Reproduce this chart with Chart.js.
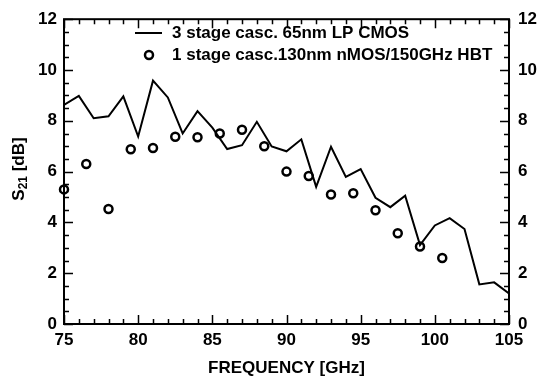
<!DOCTYPE html>
<html>
<head>
<meta charset="utf-8">
<script src="https://cdn.jsdelivr.net/npm/chart.js@4.4.0/dist/chart.umd.min.js"></script>
<style>
  html, body { margin: 0; padding: 0; background: #fff; }
  #wrap { width: 538px; height: 379px; }
</style>
</head>
<body>
<div id="wrap"><canvas id="grafico"></canvas></div>
<script>
// dados
var freqCMOS = [75, 76, 77, 78, 79, 80, 81, 82, 83, 84, 85, 86, 87, 88, 89, 90,
  91, 92, 93, 94, 95, 96, 97, 98, 99, 100, 101, 102, 103, 104, 105];
var s21CMOS = [8.63, 8.98, 8.1, 8.18, 8.96, 7.38, 9.58, 8.92, 7.5, 8.38, 7.73, 6.89, 7.04, 7.96, 6.99, 6.8,
  7.27, 5.4, 6.98, 5.79, 6.1, 4.97, 4.6, 5.05, 3.11, 3.88, 4.17, 3.74, 1.56, 1.64, 1.2];

var freqHBT = [75, 76.5, 78, 79.5, 81, 82.5, 84, 85.5, 87, 88.5, 90, 91.5, 93, 94.5, 96, 97.5, 99, 100.5];
var s21HBT = [5.3, 6.3, 4.53, 6.88, 6.93, 7.37, 7.35, 7.5, 7.65, 7.0, 6.0, 5.83, 5.1, 5.15, 4.48, 3.57, 3.05, 2.6];

var legendas = ['3 stage casc. 65nm LP CMOS', '1 stage casc.130nm nMOS/150GHz HBT'];
var xMin = 75, xMax = 105, xPasso = 5, xMenor = 1;
var yMin = 0, yMax = 12, yPasso = 2, yMenor = 0.5;

var fonte = 'Liberation Sans, Arial, sans-serif';

function juntaPontos(vx, vy) {
  var pts = [];
  for (var i = 0; i < vx.length; i++) {
    pts.push({ x: vx[i], y: vy[i] });
  }
  return pts;
}

// ticks para dentro, moldura, legenda e titulo do eixo Y
var extras = {
  id: 'extras',
  afterDraw: function (chart) {
    var ctx = chart.ctx;
    var a = chart.chartArea;
    var sx = chart.scales.x, sy = chart.scales.y;
    ctx.save();
    ctx.strokeStyle = '#000';
    ctx.lineWidth = 2;
    ctx.strokeRect(a.left, a.top, a.right - a.left, a.bottom - a.top);

    ctx.lineWidth = 1.5;
    ctx.beginPath();
    for (var v = xMin; v <= xMax + 1e-9; v += xMenor) {
      var px = Math.round(sx.getPixelForValue(v)) + 0.5;
      var len = (Math.abs(v % xPasso) < 1e-9) ? 9 : 5;
      ctx.moveTo(px, a.bottom); ctx.lineTo(px, a.bottom - len);
      ctx.moveTo(px, a.top); ctx.lineTo(px, a.top + len);
    }
    for (var w = yMin; w <= yMax + 1e-9; w += yMenor) {
      var py = Math.round(sy.getPixelForValue(w)) + 0.5;
      var len2 = (Math.abs(w % yPasso) < 1e-9) ? 9 : 5;
      ctx.moveTo(a.left, py); ctx.lineTo(a.left + len2, py);
      ctx.moveTo(a.right, py); ctx.lineTo(a.right - len2, py);
    }
    ctx.stroke();

    // legenda
    ctx.fillStyle = '#000';
    ctx.font = 'bold 17px ' + fonte;
    ctx.textBaseline = 'middle';
    ctx.textAlign = 'left';
    ctx.lineWidth = 2;
    ctx.beginPath();
    ctx.moveTo(135, 33); ctx.lineTo(162, 33);
    ctx.stroke();
    ctx.fillText(legendas[0], 172, 33);
    ctx.lineWidth = 2.5;
    ctx.beginPath();
    ctx.arc(149, 55, 4, 0, Math.PI * 2);
    ctx.stroke();
    ctx.fillText(legendas[1], 172, 55);

    // titulo eixo Y com subscrito
    ctx.translate(19, 169);
    ctx.rotate(-Math.PI / 2);
    ctx.textBaseline = 'middle';
    ctx.font = 'bold 17px ' + fonte;
    var p1 = 'S', p2 = '21', p3 = ' [dB]';
    var w1 = ctx.measureText(p1).width;
    var w3 = ctx.measureText(p3).width;
    ctx.font = 'bold 12px ' + fonte;
    var w2 = ctx.measureText(p2).width;
    var x0 = -(w1 + w2 + w3) / 2;
    ctx.font = 'bold 17px ' + fonte;
    ctx.fillText(p1, x0, 0);
    ctx.font = 'bold 12px ' + fonte;
    ctx.fillText(p2, x0 + w1, 5);
    ctx.font = 'bold 17px ' + fonte;
    ctx.fillText(p3, x0 + w1 + w2, 0);
    ctx.restore();
  }
};

function montaGrafico() {
  var ctx = document.getElementById('grafico').getContext('2d');
  var tickFont = { family: fonte, size: 17, weight: 'bold' };
  new Chart(ctx, {
    type: 'scatter',
    data: {
      datasets: [
        {
          label: legendas[0],
          data: juntaPontos(freqCMOS, s21CMOS),
          showLine: true,
          borderColor: '#000',
          borderWidth: 2,
          pointRadius: 0,
          tension: 0
        },
        {
          label: legendas[1],
          data: juntaPontos(freqHBT, s21HBT),
          showLine: false,
          clip: false,
          borderColor: '#000',
          backgroundColor: 'rgba(0,0,0,0)',
          borderWidth: 2.5,
          pointRadius: 4,
          pointStyle: 'circle'
        }
      ]
    },
    options: {
      responsive: true,
      maintainAspectRatio: false,
      animation: false,
      layout: { padding: { top: 15, left: 0, right: 0, bottom: 0 } },
      plugins: {
        legend: { display: false },
        tooltip: { enabled: false }
      },
      scales: {
        x: {
          type: 'linear',
          min: xMin, max: xMax,
          grid: { display: false, drawTicks: false },
          border: { display: false },
          ticks: { stepSize: xPasso, color: '#000', font: tickFont, padding: 6, maxRotation: 0 },
          title: { display: true, text: 'FREQUENCY [GHz]', color: '#000', font: tickFont, padding: { top: 2, bottom: 0 } },
          afterFit: function (s) { s.height = 55; }
        },
        y: {
          position: 'left',
          min: yMin, max: yMax,
          grid: { display: false, drawTicks: false },
          border: { display: false },
          ticks: { stepSize: yPasso, color: '#000', font: tickFont, padding: 7 },
          afterFit: function (s) { s.width = 64; }
        },
        y2: {
          position: 'right',
          min: yMin, max: yMax,
          grid: { display: false, drawTicks: false },
          border: { display: false },
          ticks: { stepSize: yPasso, color: '#000', font: tickFont, padding: 9 },
          afterFit: function (s) { s.width = 29; }
        }
      }
    },
    plugins: [extras]
  });
}

montaGrafico();
</script>
</body>
</html>
